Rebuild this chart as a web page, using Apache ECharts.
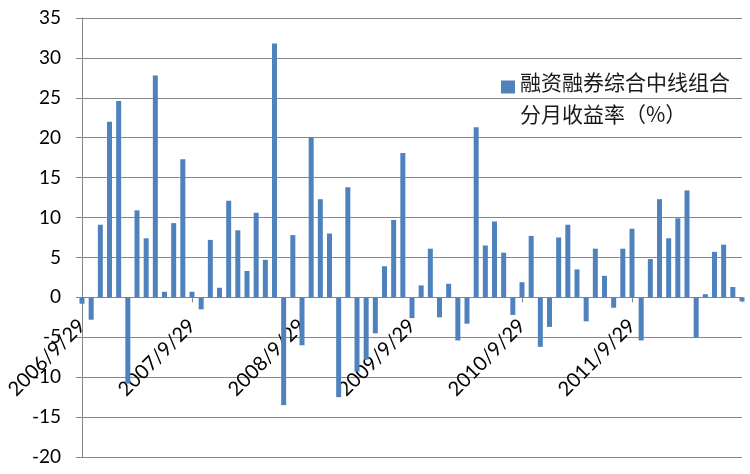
<!DOCTYPE html>
<html>
<head>
<meta charset="utf-8">
<script src="https://cdn.jsdelivr.net/npm/echarts@6/dist/echarts.min.js"></script>
<style>
html,body{margin:0;padding:0;background:#fff;}
#chart{width:750px;height:474px;}
</style>
</head>
<body>
<div id="chart"></div>
<script>
var categories = [
  '2006/9/29','2006/10/29','2006/11/29','2006/12/29',
  '2007/1/29','2007/2/28','2007/3/29','2007/4/29','2007/5/29','2007/6/29','2007/7/29','2007/8/29','2007/9/29','2007/10/29','2007/11/29','2007/12/29',
  '2008/1/29','2008/2/29','2008/3/29','2008/4/29','2008/5/29','2008/6/29','2008/7/29','2008/8/29','2008/9/29','2008/10/29','2008/11/29','2008/12/29',
  '2009/1/29','2009/2/28','2009/3/29','2009/4/29','2009/5/29','2009/6/29','2009/7/29','2009/8/29','2009/9/29','2009/10/29','2009/11/29','2009/12/29',
  '2010/1/29','2010/2/28','2010/3/29','2010/4/29','2010/5/29','2010/6/29','2010/7/29','2010/8/29','2010/9/29','2010/10/29','2010/11/29','2010/12/29',
  '2011/1/29','2011/2/28','2011/3/29','2011/4/29','2011/5/29','2011/6/29','2011/7/29','2011/8/29','2011/9/29','2011/10/29','2011/11/29','2011/12/29',
  '2012/1/29','2012/2/29','2012/3/29','2012/4/29','2012/5/29','2012/6/29','2012/7/29','2012/8/29','2012/9/29'
];
var monthlyReturn = [
  -0.8, -2.8, 9.1, 22.0, 24.6, -10.8, 10.9, 7.4, 27.8, 0.7, 9.3, 17.3, 0.7,
  -1.5, 7.2, 1.2, 12.1, 8.4, 3.3, 10.6, 4.7, 31.8, -13.5, 7.8,
  -6.0, 20.1, 12.3, 8.0, -12.5, 13.8, -9.3, -7.8, -4.5, 3.9, 9.7, 18.1,
  -2.6, 1.5, 6.1, -2.5, 1.7, -5.4, -3.3, 21.3, 6.5, 9.5, 5.6, -2.2,
  1.9, 7.7, -6.2, -3.7, 7.5, 9.1, 3.5, -3.0, 6.1, 2.7, -1.3, 6.1,
  8.6, -5.4, 4.8, 12.3, 7.4, 9.9, 13.4, -5.0, 0.4, 5.7, 6.6, 1.3, -0.5
];
var seriesName = '融资融券综合中线组合分月收益率（%）';
var legendLine1 = '融资融券综合中线组合';
var legendLine2 = '分月收益率（%）';
var yMin = -20, yMax = 35, yStep = 5;

var chart = echarts.init(document.getElementById('chart'), null, {renderer: 'canvas'});
var gray = '#868686';
var gridTop = 18, gridBottom = 17, chartH = 474;
var plotH = chartH - gridTop - gridBottom;
// distance from bottom of grid to the zero line
var zeroOffset = plotH * (0 - yMin) / (yMax - yMin);
chart.setOption({
  animation: false,
  backgroundColor: '#ffffff',
  textStyle: {fontFamily: 'Lato, "Noto Sans CJK SC", sans-serif'},
  grid: {left: 82, right: 8, top: gridTop, bottom: gridBottom, containLabel: false, outerBoundsMode: 'none'},
  legend: {
    show: true,
    left: 496,
    top: 45,
    padding: 5,
    orient: 'vertical',
    itemWidth: 14,
    itemHeight: 13,
    icon: 'rect',
    data: [seriesName],
    formatter: function () { return '{s| }\n{t|' + legendLine1 + '}\n{t|' + legendLine2 + '}'; },
    textStyle: {
      fontFamily: '"Noto Sans CJK SC", sans-serif',
      fontSize: 21,
      color: '#1a1a1a',
      rich: {
        s: {fontSize: 10, lineHeight: 22},
        t: {fontFamily: '"Noto Sans CJK SC", sans-serif', fontSize: 21, lineHeight: 32, color: '#1a1a1a'}
      }
    }
  },
  xAxis: {
    type: 'category',
    data: categories,
    boundaryGap: false,
    position: 'bottom',
    offset: -zeroOffset,
    axisLine: {show: true, onZero: false, lineStyle: {color: gray, width: 1}},
    axisTick: {show: true, interval: 11, length: 5, inside: false, lineStyle: {color: gray}},
    axisLabel: {
      interval: function (i) { return i % 12 === 0 && i < 72; },
      rotate: 45,
      margin: 25,
      fontSize: 20,
      color: '#000',
      fontFamily: 'Lato, sans-serif'
    },
    splitLine: {show: false}
  },
  yAxis: {
    type: 'value',
    min: yMin,
    max: yMax,
    interval: yStep,
    axisLine: {show: true, lineStyle: {color: gray, width: 1}},
    axisTick: {show: true, length: 6, lineStyle: {color: gray}},
    axisLabel: {fontSize: 19, color: '#000', margin: 21, fontFamily: 'Lato, sans-serif'},
    splitLine: {show: true, lineStyle: {color: gray, width: 1}}
  },
  series: [{
    name: seriesName,
    type: 'bar',
    data: monthlyReturn,
    barWidth: 5,
    clip: true,
    itemStyle: {color: '#4F81BD'}
  }]
});
</script>
</body>
</html>
